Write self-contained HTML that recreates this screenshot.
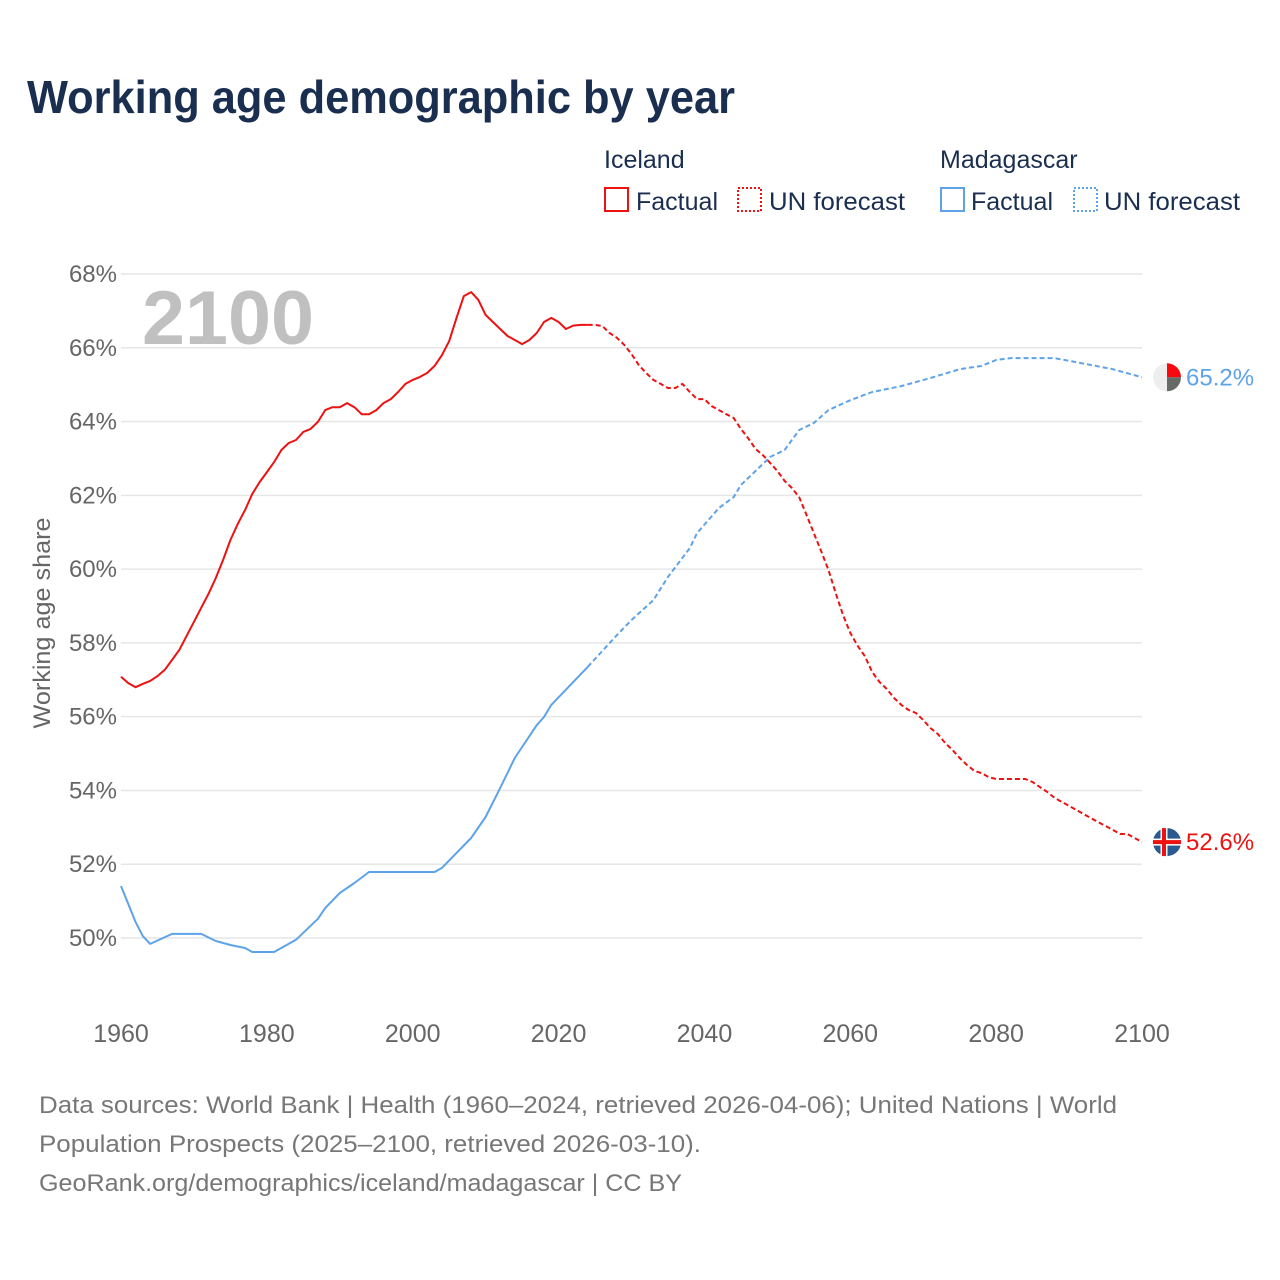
<!DOCTYPE html>
<html><head><meta charset="utf-8"><style>
body{margin:0;background:#fff;}
svg{display:block;font-family:"Liberation Sans","DejaVu Sans",sans-serif;}
</style></head><body>
<svg id="chart" width="1280" height="1280" viewBox="0 0 1280 1280">
<text x="27" y="113" font-size="46" font-weight="bold" fill="#1a2e4f" textLength="708" lengthAdjust="spacingAndGlyphs">Working age demographic by year</text>
<g font-size="25" fill="#1a2e4f">
<text x="604" y="168">Iceland</text>
<text x="940" y="168">Madagascar</text>
<rect x="605" y="188" width="23" height="23" fill="none" stroke="#ee1111" stroke-width="2"/>
<text x="636" y="210" textLength="82" lengthAdjust="spacingAndGlyphs">Factual</text>
<rect x="738" y="188" width="23" height="23" fill="none" stroke="#ee1111" stroke-width="2" stroke-dasharray="2 2"/>
<text x="769" y="210" textLength="136" lengthAdjust="spacingAndGlyphs">UN forecast</text>
<rect x="941" y="188" width="23" height="23" fill="none" stroke="#5ea3e8" stroke-width="2"/>
<text x="971" y="210" textLength="82" lengthAdjust="spacingAndGlyphs">Factual</text>
<rect x="1074" y="188" width="23" height="23" fill="none" stroke="#5ea3e8" stroke-width="2" stroke-dasharray="2 2"/>
<text x="1104" y="210" textLength="136" lengthAdjust="spacingAndGlyphs">UN forecast</text>
</g>
<text x="142" y="344" font-size="76" font-weight="bold" fill="#c0c0c0" textLength="172" lengthAdjust="spacingAndGlyphs">2100</text>
<text transform="translate(50,623) rotate(-90)" text-anchor="middle" font-size="24" fill="#666" textLength="211" lengthAdjust="spacingAndGlyphs">Working age share</text>
<g id="grid"></g><g id="yticks"></g><g id="xticks"></g><g id="series"></g>
<g font-size="24" fill="#777">
<text x="39" y="1113" textLength="1078" lengthAdjust="spacingAndGlyphs">Data sources: World Bank | Health (1960–2024, retrieved 2026-04-06); United Nations | World</text>
<text x="39" y="1152" textLength="662" lengthAdjust="spacingAndGlyphs">Population Prospects (2025–2100, retrieved 2026-03-10).</text>
<text x="39" y="1191" textLength="643" lengthAdjust="spacingAndGlyphs">GeoRank.org/demographics/iceland/madagascar | CC BY</text>
</g>
</svg>
<script>
const yTicks=[68,66,64,62,60,58,56,54,52,50];
const xTicks=[1960,1980,2000,2020,2040,2060,2080,2100];
const icelandFactual=[57.08,56.91,56.80,56.89,56.97,57.10,57.27,57.54,57.81,58.19,58.57,58.95,59.33,59.76,60.25,60.79,61.22,61.60,62.04,62.36,62.63,62.90,63.23,63.42,63.50,63.72,63.80,63.99,64.31,64.39,64.39,64.50,64.39,64.20,64.20,64.31,64.50,64.61,64.80,65.02,65.13,65.21,65.32,65.51,65.80,66.18,66.81,67.40,67.51,67.30,66.89,66.70,66.51,66.32,66.21,66.10,66.21,66.40,66.70,66.81,66.70,66.51,66.60,66.62,66.62];
const icelandForecast=[66.62,66.62,66.59,66.40,66.27,66.08,65.83,65.53,65.32,65.13,65.02,64.91,64.91,65.02,64.80,64.61,64.61,64.42,64.31,64.20,64.10,63.80,63.55,63.26,63.09,62.88,62.66,62.39,62.20,61.95,61.47,60.98,60.49,59.98,59.35,58.76,58.27,57.92,57.64,57.21,56.94,56.75,56.51,56.32,56.18,56.10,55.91,55.69,55.53,55.29,55.10,54.88,54.69,54.53,54.47,54.36,54.31,54.31,54.31,54.31,54.31,54.23,54.09,53.96,53.80,53.69,53.58,53.47,53.36,53.25,53.14,53.04,52.93,52.82,52.82,52.71,52.60];
const madaFactYears=[1960,1962,1963,1964,1967,1971,1973,1975,1977,1978,1981,1984,1987,1988,1990,1992,1994,2003,2004,2008,2010,2012,2014,2017,2018,2019,2024];
const madaFactual=[51.41,50.43,50.05,49.84,50.11,50.11,49.92,49.81,49.73,49.62,49.62,49.95,50.52,50.81,51.22,51.49,51.79,51.79,51.90,52.71,53.28,54.07,54.88,55.77,55.99,56.32,57.35];
const madaFcYears=[2024,2028,2030,2033,2035,2038,2039,2042,2044,2045,2049,2051,2053,2055,2057,2060,2063,2067,2071,2075,2078,2080,2082,2088,2091,2096,2100];
const madaForecast=[57.35,58.21,58.62,59.16,59.79,60.57,60.98,61.66,61.95,62.28,63.04,63.23,63.77,63.96,64.31,64.58,64.80,64.96,65.18,65.42,65.51,65.67,65.72,65.72,65.61,65.42,65.2];

const NS='http://www.w3.org/2000/svg';
const X=y=>121+(y-1960)*(1021/140);
const Y=v=>274+(68-v)*(664/18);
function mk(tag,attrs,parent){const e=document.createElementNS(NS,tag);for(const k in attrs)e.setAttribute(k,attrs[k]);parent.appendChild(e);return e;}
const grid=document.getElementById('grid'),yt=document.getElementById('yticks'),xt=document.getElementById('xticks'),ser=document.getElementById('series');
yTicks.forEach(v=>{
  const l=mk('line',{x1:121,x2:1142,y1:Y(v),y2:Y(v),stroke:'#e6e6e6','stroke-width':1.5},grid);
  
  
  const t=mk('text',{x:117,y:Y(v)+8,'text-anchor':'end','font-size':24,fill:'#666'},yt);
  t.textContent=v+'%';
  
  
});
xTicks.forEach(y=>{
  const t=mk('text',{x:X(y),y:1042,'text-anchor':'middle','font-size':25,fill:'#666'},xt);
  t.textContent=y;
  
  
});
function path(years,vals,color,dash,name){
  const d=vals.map((v,i)=>(i?'L':'M')+X(years[i]).toFixed(1)+' '+Y(v).toFixed(1)).join(' ');
  const p=mk('path',{d:d,fill:'none',stroke:color,'stroke-width':2,'stroke-linejoin':'round'},ser);
  if(dash)p.setAttribute('stroke-dasharray','5 3');
  
  
}
const iceFY=icelandFactual.map((_,i)=>1960+i);
const iceCY=icelandForecast.map((_,i)=>2024+i);
path(madaFactYears,madaFactual,'#5ea3e8',false,'madagascar-factual-line');
path(madaFcYears,madaForecast,'#5ea3e8',true,'madagascar-forecast-line');
path(iceFY,icelandFactual,'#ee1111',false,'iceland-factual-line');
path(iceCY,icelandForecast,'#ee1111',true,'iceland-forecast-line');

const mv=madaForecast[madaForecast.length-1], iv=icelandForecast[icelandForecast.length-1];
const cx=1167, my=Y(mv), iy=Y(iv), r=14;
const mg=mk('g',{},ser);


mk('circle',{cx:cx,cy:my,r:r,fill:'#eeeeee'},mg);
mk('path',{d:`M${cx} ${my} L${cx} ${my-r} A${r} ${r} 0 0 1 ${cx+r} ${my} Z`,fill:'#f7090f'},mg);
mk('path',{d:`M${cx} ${my} L${cx+r} ${my} A${r} ${r} 0 0 1 ${cx} ${my+r} Z`,fill:'#666a66'},mg);
const ml=mk('text',{x:1186,y:my+8,'font-size':24,fill:'#5ea3e8'},ser);
ml.textContent=mv.toFixed(1)+'%';


const ig=mk('g',{},ser);


mk('circle',{cx:cx,cy:iy,r:r,fill:'#2b5a91'},ig);
mk('rect',{x:cx-r,y:iy-3.5,width:2*r,height:7,fill:'#fff'},ig);
mk('rect',{x:cx-6.5,y:iy-r,width:7,height:2*r,fill:'#fff'},ig);
mk('rect',{x:cx-r,y:iy-2,width:2*r,height:4,fill:'#ee1111'},ig);
mk('rect',{x:cx-5,y:iy-r,width:4,height:2*r,fill:'#ee1111'},ig);
const il=mk('text',{x:1186,y:iy+8,'font-size':24,fill:'#ee1111'},ser);
il.textContent=iv.toFixed(1)+'%';


</script>
</body></html>
